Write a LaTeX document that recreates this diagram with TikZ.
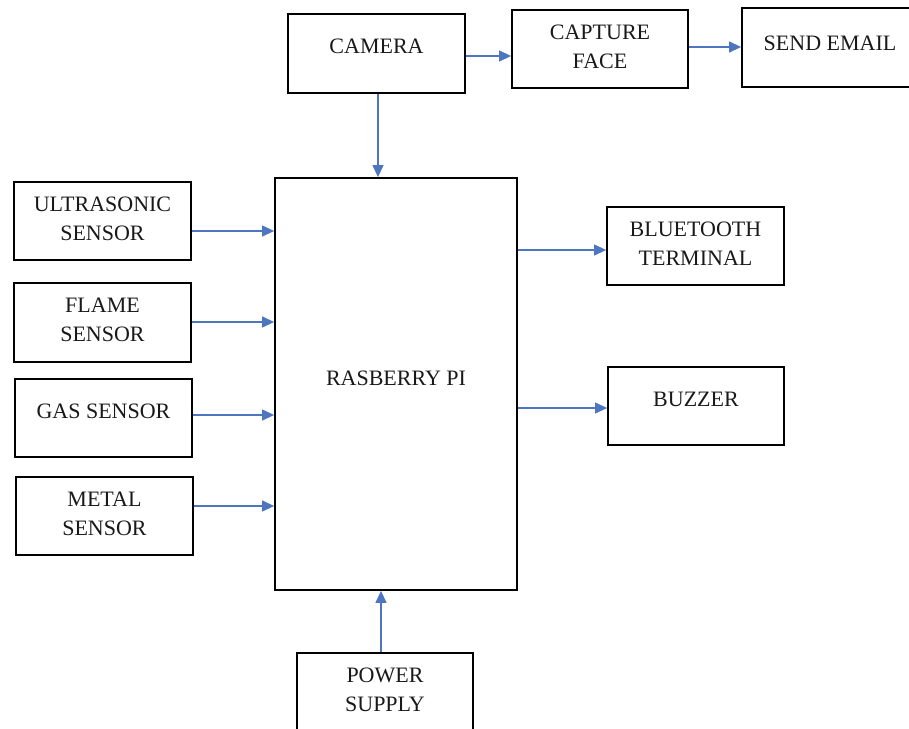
\documentclass[tikz,border=0pt]{standalone}
\usepackage{fontspec}
\setmainfont{Liberation Serif}
\usetikzlibrary{arrows.meta}
\definecolor{arrowblue}{RGB}{78,118,192}
\tikzset{
  blk/.style={draw=black, line width=1.8pt, inner sep=0pt},
  txt/.style={font=\fontsize{22}{29}\selectfont, align=center, inner sep=0pt, text=black!90},
  arr/.style={draw=arrowblue, line width=1.2pt, -{Triangle[length=12pt,width=11pt]}, fill=arrowblue}
}
\begin{document}
\begin{tikzpicture}[x=1pt,y=-1pt]
\clip (0,0) rectangle (909,728);
% boxes
\node[blk, minimum width=177pt, minimum height=79pt] (cam) at (376.5,53.5) {};
\node[blk, minimum width=176pt, minimum height=78pt] (cap) at (600,49) {};
\node[blk, minimum width=180pt, minimum height=79pt] (mail) at (832,47.5) {};
\node[blk, minimum width=242pt, minimum height=412pt] (pi) at (396,384) {};
\node[blk, minimum width=177pt, minimum height=78pt] (ultra) at (102.5,221) {};
\node[blk, minimum width=177pt, minimum height=79pt] (flame) at (102.5,322.5) {};
\node[blk, minimum width=177pt, minimum height=78pt] (gas) at (103.5,418) {};
\node[blk, minimum width=177pt, minimum height=78pt] (metal) at (104.5,516) {};
\node[blk, minimum width=177pt, minimum height=78pt] (bt) at (695.5,246) {};
\node[blk, minimum width=176pt, minimum height=78pt] (buz) at (696,406) {};
\node[blk, minimum width=176pt, minimum height=100pt] (pow) at (385,703) {};
% texts
\node[txt] (camT) at ([yshift=-33pt]cam.north) {CAMERA};
\node[txt] (capT) at ([yshift=-37.5pt]cap.north) {CAPTURE\\FACE};
\node[txt] (mailT) at (830,43) {SEND EMAIL};
\node[txt] (piT) at (396,378) {RASBERRY PI};
\node[txt] (ultraT) at ([yshift=-37.5pt]ultra.north) {ULTRASONIC\\SENSOR};
\node[txt] (flameT) at ([yshift=-37.5pt]flame.north) {FLAME\\SENSOR};
\node[txt] (gasT) at ([yshift=-33pt]gas.north) {GAS SENSOR};
\node[txt] (metalT) at ([yshift=-37.5pt]metal.north) {METAL\\SENSOR};
\node[txt] (btT) at ([yshift=-37.5pt]bt.north) {BLUETOOTH\\TERMINAL};
\node[txt] (buzT) at ([yshift=-33pt]buz.north) {BUZZER};
\node[txt] (powT) at ([yshift=-38pt]pow.north) {POWER\\SUPPLY};
% arrows
\draw[arr] ([xshift=1.5pt]cam.south) -- ([xshift=-18pt]pi.north);
\draw[arr] (cam.east |- 0,56) -- (cap.west |- 0,56);
\draw[arr] (cap.east |- 0,47) -- (mail.west |- 0,47);
\draw[arr] (ultra.east |- 0,231) -- (pi.west |- 0,231);
\draw[arr] (flame.east |- 0,322) -- (pi.west |- 0,322);
\draw[arr] (gas.east |- 0,415) -- (pi.west |- 0,415);
\draw[arr] (metal.east |- 0,506) -- (pi.west |- 0,506);
\draw[arr] (pi.east |- 0,250) -- (bt.west |- 0,250);
\draw[arr] (pi.east |- 0,408) -- (buz.west |- 0,408);
\draw[arr] (pow.north -| 381,0) -- (pi.south -| 381,0);
\end{tikzpicture}
\end{document}
